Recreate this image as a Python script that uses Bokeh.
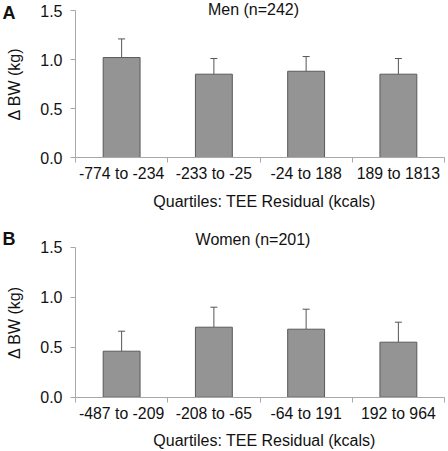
from bokeh.plotting import figure
from bokeh.models import (Range1d, FixedTicker, PrintfTickFormatter, Whisker, TeeHead,
                          ColumnDataSource, Label, LinearAxis)
from bokeh.core.properties import value
from bokeh.layouts import column
from bokeh.embed import file_html
from bokeh.resources import INLINE

# ---- data ----
men_categories = ["-774 to -234", "-233 to -25", "-24 to 188", "189 to 1813"]
men_mean = [1.02, 0.85, 0.88, 0.85]
men_err = [0.19, 0.16, 0.15, 0.16]

women_categories = ["-487 to -209", "-208 to -65", "-64 to 191", "192 to 964"]
women_mean = [0.46, 0.70, 0.68, 0.55]
women_err = [0.20, 0.20, 0.20, 0.20]

y_ticks = [0.0, 0.5, 1.0, 1.5]
y_max = 1.5
x_label = "Quartiles: TEE Residual (kcals)"
y_label = "\u0394 BW (kg)"

FONT = "Liberation Sans"
AXIS_GRAY = "#a8a8a8"
TEXT = "#111111"

W = 446
AXIS_X = 75          # pixel position of the y axis
FRAME_RIGHT = 444    # pixel position of the right end of the x axis


def panel(cats, means, errs, height, top_px, zero_px, tick_gap, label_gap):
    n = len(cats)
    xs = list(range(1, n + 1))
    ppx = (FRAME_RIGHT - AXIS_X) / n               # pixels per category
    x_start = 0.5 - AXIS_X / ppx
    x_end = n + 0.5 + (W - FRAME_RIGHT) / ppx
    ppy = (zero_px - top_px) / y_max               # pixels per unit
    y_end = y_max + top_px / ppy
    y_start = -(height - zero_px) / ppy

    p = figure(width=W, height=height, x_range=Range1d(x_start, x_end),
               y_range=Range1d(y_start, y_end), y_axis_location=None, x_axis_location=None,
               output_backend="svg", toolbar_location=None,
               min_border_left=0, min_border_right=0, min_border_top=0, min_border_bottom=0)
    p.outline_line_color = None
    p.xgrid.visible = False
    p.ygrid.visible = False
    p.background_fill_color = "white"

    src = ColumnDataSource(dict(x=xs, top=means, hi=[m + e for m, e in zip(means, errs)],
                                label=cats))
    p.vbar(x="x", top="top", width=0.4, source=src, fill_color="#949494",
           line_color="#5a5a5a", line_width=1)
    w = Whisker(source=src, base="x", lower="top", upper="hi", dimension="height",
                line_color="#555555", line_width=1,
                upper_head=TeeHead(size=7, line_color="#555555", line_width=1), lower_head=None)
    p.add_layout(w)

    # x axis at y = 0 with ticks on the category boundaries
    xa = LinearAxis(fixed_location=0, bounds=(0.5, n + 0.5))
    xa.ticker = FixedTicker(ticks=[], minor_ticks=[i + 0.5 for i in range(0, n + 1)])
    xa.major_tick_line_color = None
    xa.minor_tick_out = 5
    xa.minor_tick_in = 0
    xa.minor_tick_line_color = AXIS_GRAY
    xa.axis_line_color = AXIS_GRAY
    p.add_layout(xa, "below")

    # category labels centred under each bar
    p.text(x="x", y=-tick_gap / ppy, text="label", source=src,
           text_font=value(FONT), text_font_size="15.8px", text_color=TEXT,
           text_align="center", text_baseline="top")
    p.add_layout(Label(x=0.5 + (264 - AXIS_X) / ppx, y=-label_gap / ppy, text=x_label,
                       text_font=FONT, text_font_size="16px", text_color=TEXT,
                       text_align="center", text_baseline="top"))

    ya = LinearAxis(fixed_location=0.5, bounds=(0, y_max))
    ya.ticker = FixedTicker(ticks=y_ticks)
    ya.formatter = PrintfTickFormatter(format="%.1f")
    ya.axis_line_color = AXIS_GRAY
    ya.major_tick_line_color = AXIS_GRAY
    ya.major_tick_out = 5
    ya.major_tick_in = 0
    ya.minor_tick_line_color = None
    ya.major_label_text_font = FONT
    ya.major_label_text_font_size = "16px"
    ya.major_label_text_color = TEXT
    ya.major_label_standoff = 8
    ya.axis_label = y_label
    ya.axis_label_text_font = FONT
    ya.axis_label_text_font_size = "16px"
    ya.axis_label_text_font_style = "normal"
    ya.axis_label_text_color = TEXT
    ya.axis_label_standoff = 14
    p.add_layout(ya, "left")

    return p, ppx, ppy


def px_x(px, ppx):
    return 0.5 + (px - AXIS_X) / ppx


# top panel: page y 0..225, 1.5 at 10, 0 at 157
p1, ppx1, ppy1 = panel(men_categories, men_mean, men_err, 225, 10, 157, 7, 35.5)
p1.add_layout(Label(x=px_x(253, ppx1), y=(157 - 8.5) / ppy1, text="Men (n=242)", text_font=FONT,
                    text_font_size="16px", text_color=TEXT, text_align="center",
                    text_baseline="middle"))
p1.add_layout(Label(x=px_x(2, ppx1), y=(157 - 2) / ppy1, text="A", text_font=FONT,
                    text_font_size="18px", text_font_style="bold", text_color=TEXT,
                    text_align="left", text_baseline="top"))

# bottom panel: page y 225..450; 1.5 at 246.7 -> 21.7, 0 at 396.7 -> 171.7
p2, ppx2, ppy2 = panel(women_categories, women_mean, women_err, 225, 21.7, 171.7, 7.8, 34.5)
p2.add_layout(Label(x=px_x(252.5, ppx2), y=(171.7 - 14) / ppy2, text="Women (n=201)",
                    text_font=FONT, text_font_size="16px", text_color=TEXT,
                    text_align="center", text_baseline="middle"))
p2.add_layout(Label(x=px_x(2, ppx2), y=(171.7 - 3) / ppy2, text="B", text_font=FONT,
                    text_font_size="18px", text_font_style="bold", text_color=TEXT,
                    text_align="left", text_baseline="top"))

layout = column(p1, p2, spacing=0)
open("out.html", "w").write(file_html(layout, INLINE))
